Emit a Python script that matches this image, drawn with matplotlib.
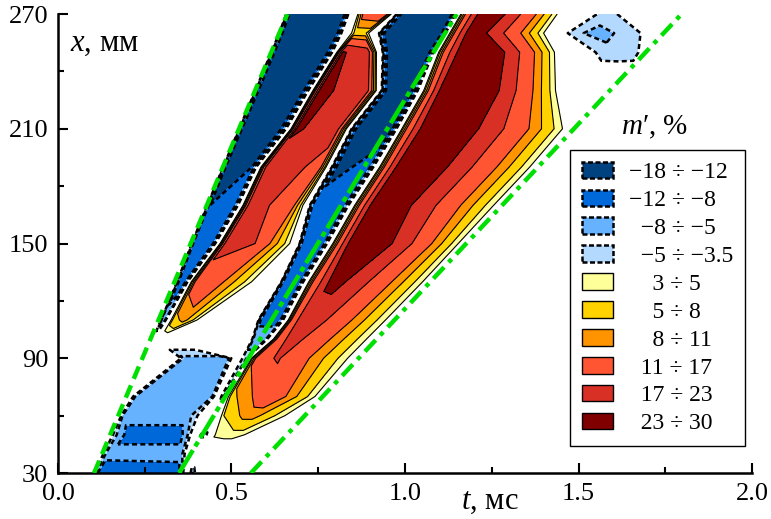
import numpy as np
import matplotlib
matplotlib.use("Agg")
import matplotlib.pyplot as plt
from matplotlib.patches import Patch

plt.rcParams['font.family'] = ['Liberation Serif', 'DejaVu Serif']
plt.rcParams['mathtext.fontset'] = 'custom'
plt.rcParams['mathtext.it'] = 'Liberation Serif:italic'
plt.rcParams['mathtext.rm'] = 'Liberation Serif'

# map rows, x in mm
x_rows = [30, 40, 50, 60, 70, 90, 100, 110, 130, 150, 170, 190, 210, 230, 250, 260, 270]

# left rarefaction band (+ blob at the bottom): t of edge, inner, inner, edge (ms) / inner m' (%)
ln_t = [[0.098, 0.121, 0.346, 0.369], [0.115, 0.144, 0.352, 0.380], [0.133, 0.202, 0.352, 0.398],
        [0.173, 0.190, 0.366, 0.444], [0.202, 0.231, 0.438, 0.461], [0.340, 0.363, 0.490, 0.516],
        [0.265, 0.271, 0.277, 0.282], [0.294, 0.300, 0.308, 0.314], [0.340, 0.349, 0.366, 0.378],
        [0.383, 0.392, 0.444, 0.458], [0.427, 0.438, 0.507, 0.524], [0.473, 0.484, 0.559, 0.576],
        [0.519, 0.533, 0.640, 0.663], [0.565, 0.582, 0.703, 0.726], [0.611, 0.628, 0.772, 0.795],
        [0.634, 0.651, 0.801, 0.821], [0.654, 0.671, 0.821, 0.841]]
ln_m = [[-11, -10], [-6.5, -6.5], [-9.5, -9.5], [-6.5, -6.5], [-7, -7], [-5.5, -5.5], [-1, -1],
        [-7, -6], [-9.5, -9], [-11, -10], [-12, -11], [-13, -12], [-15, -14], [-16, -16], [-16, -16],
        [-16, -16], [-16, -16]]

# left compression band
lr_t = [[0.372, 0.3735, 0.375, 0.376], [0.382, 0.383, 0.385, 0.386], [0.401, 0.402, 0.4035, 0.405],
        [0.4467, 0.4481, 0.4496, 0.451], [0.4625, 0.464, 0.4655, 0.467], [0.5175, 0.519, 0.520, 0.5215],
        [0.285, 0.288, 0.291, 0.294], [0.320, 0.334, 0.366, 0.418], [0.380, 0.398, 0.438, 0.588],
        [0.464, 0.484, 0.568, 0.689], [0.530, 0.550, 0.669, 0.715], [0.582, 0.602, 0.749, 0.778],
        [0.669, 0.689, 0.807, 0.836], [0.732, 0.755, 0.893, 0.922], [0.801, 0.821, 0.893, 0.922],
        [0.836, 0.856, 0.885, 0.905], [0.859, 0.882, 0.945, 0.965]]
lr_m = [[0, 0], [0, 0], [0, 0], [0, 0], [0, 0], [0, 0], [0, 0], [7, 9], [13, 15], [20, 17],
        [19, 15], [20, 16], [24, 18], [25, 18], [23.5, 20], [6, 6], [13, 14]]

# middle rarefaction band
mn_t = [[0.380, 0.383, 0.392, 0.401], [0.389, 0.392, 0.395, 0.398], [0.406, 0.412, 0.427, 0.435],
        [0.4524, 0.4539, 0.4553, 0.4568], [0.4685, 0.471, 0.477, 0.481], [0.5245, 0.533, 0.542, 0.549],
        [0.553, 0.565, 0.597, 0.611], [0.573, 0.585, 0.640, 0.654], [0.640, 0.651, 0.697, 0.712],
        [0.692, 0.706, 0.764, 0.781], [0.720, 0.738, 0.824, 0.844], [0.784, 0.804, 0.893, 0.916],
        [0.841, 0.862, 0.963, 0.980], [0.928, 0.951, 1.014, 1.043], [0.931, 0.954, 1.066, 1.086],
        [0.919, 0.945, 1.101, 1.121], [0.971, 0.994, 1.130, 1.150]]
mn_m = [[-5, -5], [0, 0], [-4, -4], [0, 0], [-4, -4], [-4.2, -4.2], [-6, -6], [-9, -9], [-10, -10],
        [-11, -10.5], [-11, -10], [-13, -11], [-14, -13], [-16, -16], [-16, -16], [-15, -16], [-15, -16]]

# main compression band: left edge, step, core, core, right edge / m' at step and core
mb_t = [[0.409, 0.412, 0.415, 0.418, 0.421], [0.403, 0.406, 0.409, 0.412, 0.415],
        [0.441, 0.455, 0.496, 0.524, 0.588], [0.461, 0.478, 0.539, 0.568, 0.697],
        [0.484, 0.501, 0.597, 0.625, 0.772], [0.553, 0.571, 0.622, 0.634, 0.876],
        [0.617, 0.634, 0.669, 0.680, 0.928], [0.660, 0.677, 0.712, 0.726, 0.980],
        [0.718, 0.735, 0.784, 0.818, 1.084], [0.787, 0.807, 0.847, 0.925, 1.182],
        [0.850, 0.870, 0.911, 0.971, 1.291], [0.922, 0.942, 0.986, 1.075, 1.395],
        [0.986, 1.006, 1.058, 1.164, 1.490], [1.049, 1.069, 1.110, 1.239, 1.458],
        [1.092, 1.112, 1.164, 1.259, 1.452], [1.124, 1.144, 1.187, 1.202, 1.424],
        [1.156, 1.176, 1.222, 1.259, 1.461]]
mb_m = [[0, 0, 0], [0, 0, 0], [3.4, 3.8, 3.8], [5, 9, 9], [7, 13.5, 14], [12, 17, 17.5],
        [14, 18.5, 19], [15, 20, 21], [11, 24, 24], [12, 27, 27], [12, 27, 27], [12, 27, 27],
        [12, 27, 27], [12, 27, 27], [12, 27, 27], [12, 27, 27], [12, 27, 27]]

# small blob top right
bl_t = [[1.60, 1.61, 1.62, 1.63, 1.64]] * 14 + [[1.536, 1.553, 1.614, 1.666, 1.695],
                                                [1.455, 1.473, 1.548, 1.671, 1.706],
                                                [1.545, 1.556, 1.582, 1.608, 1.625]]
bl_m = [[0, 0, 0]] * 14 + [[-4.5, -4.6, -4.5], [-4.5, -5.4, -4.5], [-4.3, -4.4, -4.3]]

# green front lines (t in ms at x = 30 and 270 mm)
front_x = [30, 270]
front1_t = [0.104, 0.661]
front2_t = [0.349, 1.149]
front3_t = [0.556, 1.797]

levels = [-18, -12, -8, -5, -3.5, 3, 5, 8, 11, 17, 23, 30]
fill_colors = ['#00427f', '#0068d9', '#66b2ff', '#b3d9ff', 'white',
               '#ffff99', '#ffd200', '#ff9400', '#ff5533', '#d93025', '#800000']
labels = ['−18 ÷ −12', '−12 ÷ −8', '  −8 ÷ −5', '  −5 ÷ −3.5', '    3 ÷ 5',
          '    5 ÷ 8', '    8 ÷ 11', '  11 ÷ 17', '  17 ÷ 23', '  23 ÷ 30']

T = []
Z = []
for i in range(len(x_rows)):
    T.append([0.0] + ln_t[i] + lr_t[i] + mn_t[i] + mb_t[i] + bl_t[i] + [2.0])
    Z.append([0, 0] + ln_m[i] + [0, 0] + lr_m[i] + [0, 0] + mn_m[i] + [0, 0] + mb_m[i]
             + [0, 0] + bl_m[i] + [0, 0])
T = np.array(T)
Z = np.array(Z, dtype=float)
X = np.repeat(np.array(x_rows, dtype=float)[:, None], T.shape[1], axis=1)

fig = plt.figure(figsize=(7.71, 5.19), dpi=100)
ax = fig.add_axes([0.0752, 0.0886, 0.9002, 0.8844])

ax.contourf(T, X, Z, levels=levels, colors=fill_colors)
ax.contour(T, X, Z, levels=[-12, -8, -5, -3.5], colors='k', linewidths=1.8,
           linestyles=[(0, (2.0, 1.3))])
ax.contour(T, X, Z, levels=[3, 5, 8, 11, 17, 23], colors='k', linewidths=0.8)

green = '#00e000'
ax.plot(front1_t, front_x, color=green, lw=3.2, dashes=(3, 1.6), zorder=5)
ax.plot(front2_t, front_x, color=green, lw=3.2, dashes=(6, 1, 1.2, 1), zorder=5)
ax.plot(front3_t, front_x, color=green, lw=3.2, dashes=(3.5, 1.5, 1, 1.5), zorder=5)

ax.set_xlim(0, 2)
ax.set_ylim(30, 270)
ax.set_xticks([0, 0.5, 1.0, 1.5, 2.0])
ax.set_xticklabels(['0.0', '0.5', '1.0', '1.5', '2.0'])
ax.set_xticks([0.25, 0.75, 1.25, 1.75], minor=True)
ax.set_yticks([30, 90, 150, 210, 270])
ax.set_yticks([60, 120, 180, 240], minor=True)
ax.tick_params(which='both', direction='in', width=1.5, labelsize=19, pad=7)
ax.tick_params(which='major', length=7)
ax.tick_params(which='minor', length=4.5)
for s in ['top', 'right']:
    ax.spines[s].set_visible(False)
for s in ['left', 'bottom']:
    ax.spines[s].set_linewidth(1.8)

ax.text(0.018, 0.935, '$x$, мм', transform=ax.transAxes, fontsize=22, ha='left', va='center')
ax.text(0.622, -0.062, '$t$, мс', transform=ax.transAxes, fontsize=22, ha='center', va='center')
ax.text(0.859, 0.752, "$m$′, %", transform=ax.transAxes, fontsize=21, ha='center', va='center')

handles = []
for k in range(10):
    c = fill_colors[k] if k < 4 else fill_colors[k + 1]
    if k < 4:
        handles.append(Patch(facecolor=c, edgecolor='k', linewidth=1.8, linestyle=(0, (2, 1))))
    else:
        handles.append(Patch(facecolor=c, edgecolor='k', linewidth=1.0))
leg = ax.legend(handles, labels, loc='upper right', bbox_to_anchor=(0.99, 0.704),
                borderaxespad=0, fontsize=17, fancybox=False, framealpha=1,
                edgecolor='k', handlelength=1.3, handleheight=0.7, labelspacing=0.27,
                handletextpad=0.7, borderpad=0.5)
leg.get_frame().set_linewidth(1.0)

fig.savefig('out.png', dpi=100)
